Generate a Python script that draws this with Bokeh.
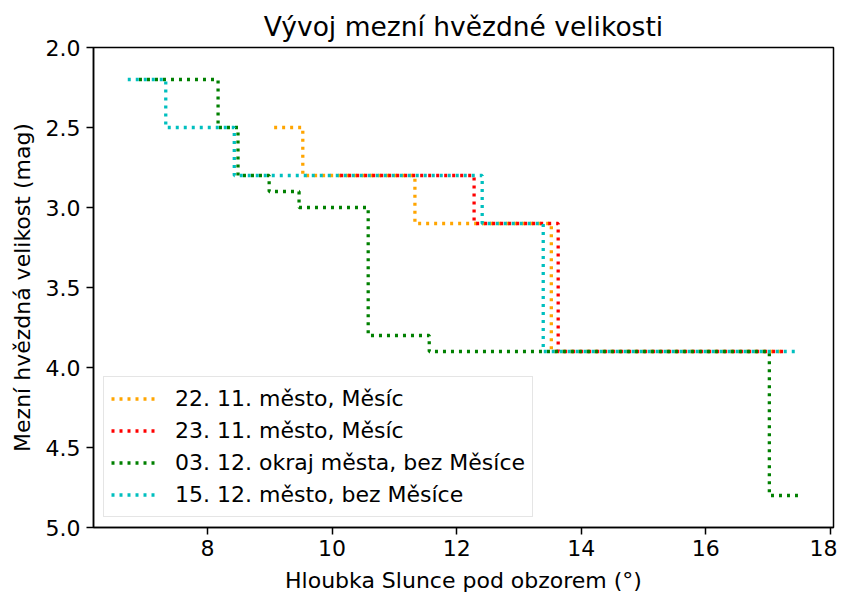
from bokeh.plotting import figure
from bokeh.models import Range1d, FixedTicker
from bokeh.embed import file_html
from bokeh.resources import INLINE

# ---- data ----
series_labels = [
    "22. 11. město, Měsíc",
    "23. 11. město, Měsíc",
    "03. 12. okraj města, bez Měsíce",
    "15. 12. město, bez Měsíce",
]
series_colors = ["#FFA500", "#FF0000", "#008000", "#00BFBF"]

orange_x = [9.07, 9.53, 11.33, 13.52, 17.25]
orange_y = [2.5, 2.8, 3.1, 3.9, 3.9]

red_x = [10.13, 12.28, 13.63, 17.24]
red_y = [2.8, 3.1, 3.9, 3.9]

green_x = [6.9, 8.17, 8.49, 8.99, 9.47, 10.58, 11.56, 17.02, 17.5]
green_y = [2.2, 2.5, 2.8, 2.9, 3.0, 3.8, 3.9, 4.8, 4.8]

cyan_x = [6.72, 7.33, 8.43, 12.41, 13.39, 17.5]
cyan_y = [2.2, 2.5, 2.8, 3.1, 3.9, 3.9]

x_ticks = [8, 10, 12, 14, 16, 18]
y_ticks = [2.0, 2.5, 3.0, 3.5, 4.0, 4.5, 5.0]
y_tick_labels = ["2.0", "2.5", "3.0", "3.5", "4.0", "4.5", "5.0"]

FONT = "DejaVu Sans"

p = figure(
    width=837, height=595,
    output_backend="svg", toolbar_location=None,
    x_range=Range1d(6.17, 18.05),
    y_range=Range1d(5.0, 2.0),
    min_border_left=93, min_border_right=4,
    min_border_top=47, min_border_bottom=67,
    title="Vývoj mezní hvězdné velikosti",
)

p.title.align = "center"
p.title.text_font = FONT
p.title.text_font_size = "26.5px"
p.title.text_font_style = "normal"
p.title.text_color = "black"
p.title.standoff = 12

p.xgrid.visible = False
p.ygrid.visible = False
p.outline_line_color = "black"
p.outline_line_width = 1.5
p.background_fill_color = "white"
p.border_fill_color = "white"

series = [
    (orange_x, orange_y),
    (red_x, red_y),
    (green_x, green_y),
    (cyan_x, cyan_y),
]
for (xs, ys), lab, col in zip(series, series_labels, series_colors):
    p.step(xs, ys, mode="after", line_color=col, line_width=3.3,
           line_dash="3 5", legend_label=lab)

for ax in (p.xaxis[0], p.yaxis[0]):
    ax.axis_line_color = "black"
    ax.axis_line_width = 1.5
    ax.major_tick_line_color = "black"
    ax.major_tick_line_width = 1.5
    ax.major_tick_in = 0
    ax.major_tick_out = 7
    ax.minor_tick_line_color = None
    ax.major_label_text_font = FONT
    ax.major_label_text_font_size = "22px"
    ax.major_label_text_color = "black"
    ax.axis_label_text_font = FONT
    ax.axis_label_text_font_size = "22px"
    ax.axis_label_text_font_style = "normal"
    ax.axis_label_text_color = "black"

p.xaxis[0].ticker = FixedTicker(ticks=x_ticks)
p.yaxis[0].ticker = FixedTicker(ticks=y_ticks)
p.yaxis[0].major_label_overrides = {t: l for t, l in zip(y_ticks, y_tick_labels)}
p.xaxis[0].major_label_standoff = 5
p.xaxis[0].axis_label_standoff = 9
p.yaxis[0].major_label_standoff = 6
p.yaxis[0].axis_label_standoff = 8
p.xaxis[0].axis_label = "Hloubka Slunce pod obzorem (°)"
p.yaxis[0].axis_label = "Mezní hvězdná velikost (mag)"

lg = p.legend[0]
lg.location = "bottom_left"
lg.margin = 10
lg.padding = 7
lg.spacing = 3
lg.label_height = 29
lg.glyph_height = 29
lg.glyph_width = 47
lg.label_standoff = 17
lg.label_text_font = FONT
lg.label_text_font_size = "22px"
lg.label_text_color = "black"
lg.border_line_color = "#cccccc"
lg.border_line_width = 1.5
lg.background_fill_alpha = 0.8

with open("out.html", "w") as f:
    f.write(file_html(p, INLINE))
